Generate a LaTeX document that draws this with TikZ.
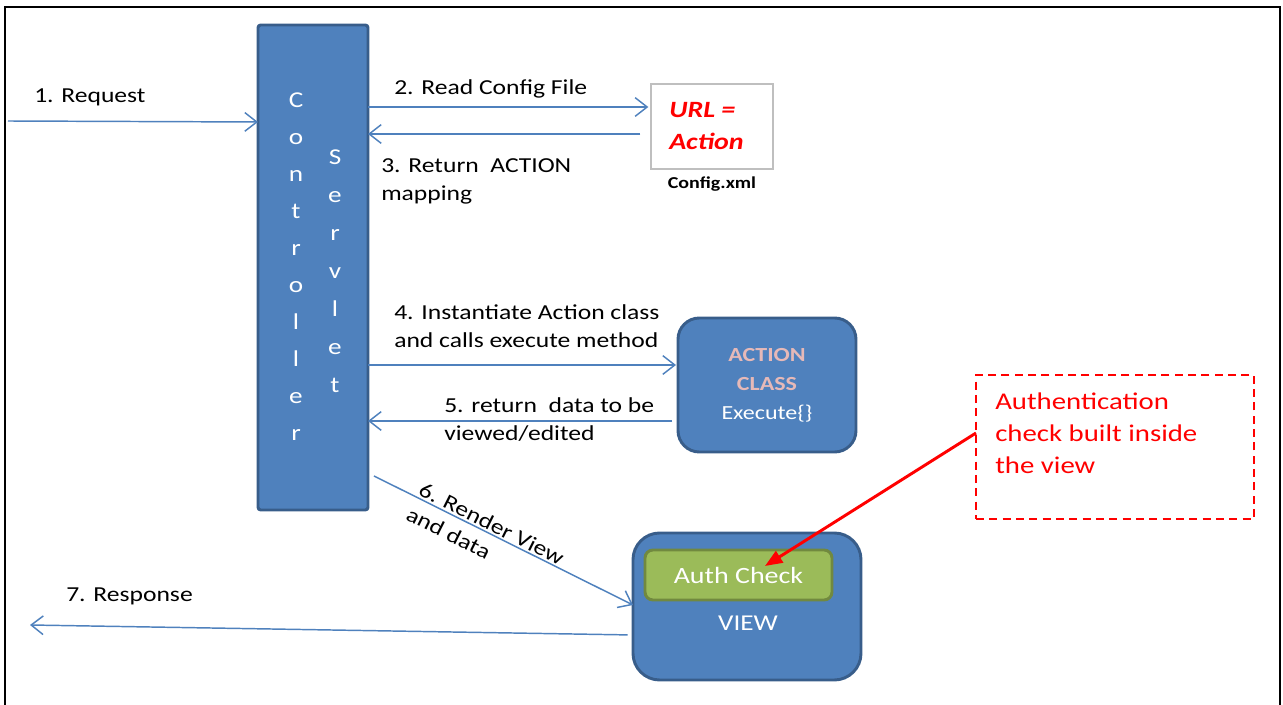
\documentclass[tikz,border=0pt]{standalone}
\usepackage{fontspec}
\setmainfont{Carlito}[FakeStretch=1.2]
\usetikzlibrary{arrows.meta}

\definecolor{boxblue}{RGB}{79,129,189}
\definecolor{boxedge}{RGB}{56,93,138}
\definecolor{authgreen}{RGB}{155,187,89}
\definecolor{authedge}{RGB}{113,137,63}
\definecolor{pinktext}{RGB}{230,185,184}
\definecolor{cfgedge}{RGB}{191,191,191}

\begin{document}
\begin{tikzpicture}[x=0.75pt,y=0.75pt,yscale=-1,xscale=1,
  lbl/.style={inner sep=0.75pt, align=left, font=\fontsize{16}{21}\selectfont},
  bluebox/.style={draw=boxedge, fill=boxblue, line width=2.2pt, inner sep=0pt, outer sep=0pt},
  flow/.style={draw=boxblue, line width=1.1pt, -{Straight Barb[length=9pt,width=14pt]}},
  letters/.style={inner sep=0pt, align=center, text=white}]
\useasboundingbox (0,0) rectangle (1283,705);

%Frame
\draw [line width=1.5pt] (5,715) -- (5,7) -- (1280,7) -- (1280,715) ;

%Shape: Controller bar
\node (ctrl) [bluebox, rounded corners=2pt, minimum width=82.5pt, minimum height=363.75pt] at (313,267.5) {};
\node (ctrltxt) [letters, font=\fontsize{17}{27.75}\selectfont] at (296,266.5) {C\\o\\n\\t\\r\\o\\l\\l\\e\\r};
\node (srvtxt) [letters, font=\fontsize{17}{28.5}\selectfont] at (335,271) {S\\e\\r\\v\\l\\e\\t};

%Shape: Config file
\node (cfg) [draw=cfgedge, line width=1.1pt, inner sep=0pt, outer sep=0pt, minimum width=91.5pt, minimum height=63.75pt] at (712,126.5) {};
\node (cfgtxt) [anchor=west, inner sep=0pt, align=left, text=red, font=\fontsize{17.5}{24}\selectfont\bfseries\itshape] at (669,126) {URL =\\Action};
\node (cfgname) [inner sep=0pt, font=\fontsize{12.5}{15}\selectfont\bfseries] at (712,184) {Config.xml};

%Shape: Action class
\node (act) [bluebox, rounded corners=16pt, minimum width=133.5pt, minimum height=100.5pt, align=center, font=\fontsize{15}{21.75}\selectfont] at (767,385)
  {\textcolor{pinktext}{\bfseries ACTION}\\\textcolor{pinktext}{\bfseries CLASS}\\\textcolor{white}{Execute\{\}}};

%Shape: View
\node (view) [bluebox, rounded corners=20pt, minimum width=171pt, minimum height=110.25pt] at (747,606.5) {};
\node (auth) [draw=authedge, fill=authgreen, line width=2.2pt, rounded corners=6pt, inner sep=0pt, outer sep=0pt, minimum width=140.25pt, minimum height=37.5pt, text=white, font=\fontsize{17.5}{21}\selectfont] at (738.5,575) {Auth Check};
\node (viewtxt) [inner sep=0pt, text=white, font=\fontsize{17}{21}\selectfont] at (748,623) {VIEW};

%Shape: Note
\node (note) [draw=red, line width=1.1pt, dash pattern=on 6pt off 4pt, inner sep=0pt, outer sep=0pt, minimum width=208.5pt, minimum height=108pt] at (1115,447) {};
\node (notetxt) [anchor=west, inner sep=0pt, align=left, text=red, font=\fontsize{18}{24}\selectfont] at (995,433) {Authentication\\check built inside\\the view};

%Straight Lines
\coordinate (usr) at (8,121);
\coordinate (resp) at (30,625);
\coordinate (authtip) at (765,566);
\draw [flow] (usr) -- (ctrl.west |- 0,122) ;
\draw [flow, shorten >=2pt] (ctrl.east |- 0,107) -- (cfg.west |- 0,107) ;
\draw [flow, shorten <=8pt] (cfg.west |- 0,134) -- (ctrl.east |- 0,134) ;
\draw [flow, shorten >=1.5pt] (ctrl.east |- 0,365) -- (act.west |- 0,365) ;
\draw [flow, shorten <=4.5pt] (act.west |- 0,421) -- (ctrl.east |- 0,421) ;
\draw [flow, shorten <=5pt] (ctrl.east |- 0,473) -- node (lblrender) [lbl, rotate=-26.7, pos=0.45, yshift=-3pt] {6. Render View\\and data} (view.west |- 0,605) ;
\draw [flow, shorten <=4pt] (view.west |- 0,635) -- (resp) ;
\draw [red, line width=2.2pt, -{Triangle[length=13pt,width=10pt]}] (note.west |- notetxt.west) -- (authtip) ;

% Text Node
\node (lblreq) [lbl, anchor=west] at (33,97) {1. Request};
% Text Node
\node (lblread) [lbl, anchor=west] at (393,89) {2. Read Config File};
% Text Node
\node (lblret) [lbl, anchor=west] at (380,181) {3. Return~ ACTION\\mapping};
% Text Node
\node (lblinst) [lbl, anchor=west] at (393,326) {4. Instantiate Action class\\and calls execute method};
% Text Node
\node (lbldata) [lbl, anchor=west] at (443,420) {5. return~ data to be\\viewed/edited};
% Text Node
\node (lblresp) [lbl, anchor=west] at (65,596) {7. Response};

\end{tikzpicture}
\end{document}
